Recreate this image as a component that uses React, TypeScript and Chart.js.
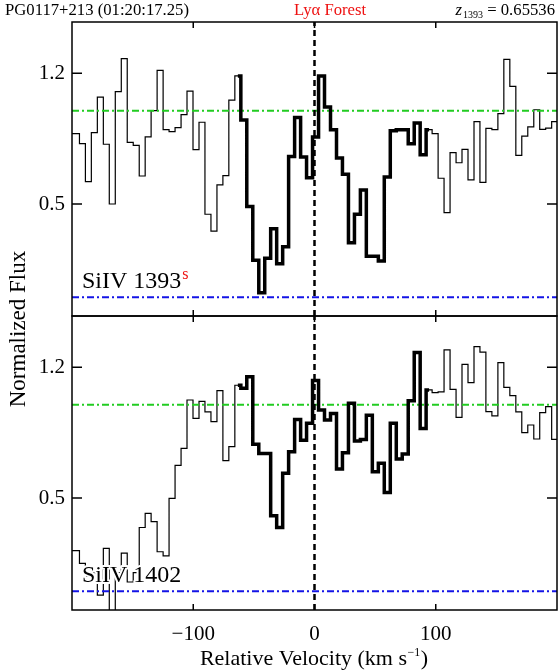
import React, { useEffect, useRef } from "react";
import { Chart, registerables } from "chart.js";

Chart.register(...registerables);

// Bin-centre velocities (km/s)
const velocity = [
  -201.3, -196.3, -191.4, -186.5, -181.6, -176.6, -171.7, -166.8, -161.8, -156.9,
  -152.0, -147.0, -142.1, -137.2, -132.3, -127.3, -122.4, -117.5, -112.5, -107.6,
  -102.7, -97.7, -92.8, -87.9, -82.9, -78.0, -73.1, -68.2, -63.2, -58.3,
  -53.4, -48.4, -43.5, -38.6, -33.7, -28.7, -23.8, -18.9, -13.9, -9.0,
  -4.1, 0.9, 5.8, 10.7, 15.7, 20.6, 25.5, 30.5, 35.4, 40.3,
  45.2, 50.2, 55.1, 60.0, 65.0, 69.9, 74.8, 79.8, 84.7, 89.6,
  94.5, 99.5, 104.4, 109.3, 114.3, 119.2, 124.1, 129.1, 134.0, 138.9,
  143.8, 148.8, 153.7, 158.6, 163.6, 168.5, 173.4, 178.4, 183.3, 188.2,
  193.1, 198.1, 203.0,
];

// SiIV 1393 normalized flux
const fluxSiIV1393 = [
  0.877, 0.877, 0.823, 0.62, 0.882, 1.073, 0.82, 0.5, 1.102, 1.279,
  0.83, 0.814, 0.65, 0.86, 1.0, 1.216, 0.898, 0.888, 0.909, 0.979,
  1.105, 0.791, 0.938, 0.445, 0.355, 0.602, 0.652, 1.057, 1.186, 0.95,
  0.486, 0.198, 0.025, 0.209, 0.368, 0.18, 0.271, 0.754, 0.963, 0.752,
  0.64, 0.859, 1.186, 1.02, 0.898, 0.746, 0.66, 0.293, 0.445, 0.575,
  0.22, 0.22, 0.195, 0.645, 0.893, 0.898, 0.898, 0.823, 0.934, 0.764,
  0.898, 0.877, 0.638, 0.454, 0.775, 0.721, 0.793, 0.629, 0.941, 0.616,
  0.905, 0.898, 0.984, 1.275, 1.13, 0.761, 0.864, 0.913, 1.005, 0.9,
  0.907, 0.941, 0.941,
];

// SiIV 1402 normalized flux
const fluxSiIV1402 = [
  0.218, 0.218, 0.15, 0.08, 0.1, -0.02, 0.23, -0.2, 0.1, 0.205,
  0.05, 0.1, 0.342, 0.418, 0.373, 0.212, 0.19, 0.498, 0.675, 0.766,
  1.025, 0.927, 1.018, 0.961, 0.909, 1.075, 0.7, 0.775, 1.104, 1.088,
  1.15, 0.788, 0.739, 0.739, 0.405, 0.342, 0.632, 0.748, 0.921, 0.81,
  0.9, 1.13, 0.971, 0.918, 0.953, 0.655, 0.743, 1.007, 0.805, 0.814,
  0.943, 0.641, 0.686, 0.53, 0.9, 0.709, 0.736, 1.021, 1.279, 0.872,
  1.079, 1.065, 1.068, 1.293, 1.082, 0.932, 1.216, 1.118, 1.311, 1.282,
  0.963, 0.94, 1.225, 1.093, 1.048, 0.961, 0.85, 0.891, 0.816, 0.957,
  0.989, 0.814, 0.814,
];

// Velocity window of the absorption (thick line)
const absorptionWindow = [-63.2, 94.5];

const xTicks = [-100, 0, 100];
const yTicks = [0.5, 1.2];
const xRange = [-200, 200];
const yRange = [-0.1, 1.475];
const continuumLevel = 1.0;
const zeroLevel = 0.0;

const headerLeft = "PG0117+213 (01:20:17.25)";
const headerCenter = "Ly\u03b1 Forest";
const redshiftLabel = "z";
const redshiftSub = "1393";
const redshiftValue = " = 0.65536";
const panelLabels: Record<string, { main: string; sup: string }> = {
  yTop: { main: "SiIV 1393", sup: "s" },
  yBot: { main: "SiIV 1402", sup: "" },
};

const SERIF = '"Liberation Serif", "DejaVu Serif", "Times New Roman", serif';
const GREEN = "#22cc22";
const BLUE = "#1414e6";

function pts(xs: number[], ys: number[]) {
  return xs.map((x, i) => ({ x, y: ys[i] }));
}

function windowPts(xs: number[], ys: number[]) {
  return pts(xs, ys).filter(
    (p) => p.x >= absorptionWindow[0] - 0.01 && p.x <= absorptionWindow[1] + 0.01
  );
}

function panelDatasets(flux: number[], axis: string) {
  const base = {
    yAxisID: axis,
    xAxisID: "x",
    pointRadius: 0,
    fill: false,
    tension: 0,
  };
  return [
    {
      ...base,
      data: [
        { x: 0, y: yRange[0] },
        { x: 0, y: yRange[1] },
      ],
      borderColor: "#000",
      borderWidth: 2.5,
      borderDash: [6, 4],
      order: 0,
      clip: 0,
    },
    {
      ...base,
      data: windowPts(velocity, flux),
      borderColor: "#000",
      borderWidth: 3.5,
      stepped: "middle",
      order: 1,
      clip: 0,
    },
    {
      ...base,
      data: [
        { x: xRange[0], y: continuumLevel },
        { x: xRange[1], y: continuumLevel },
      ],
      borderColor: GREEN,
      borderWidth: 2,
      borderDash: [7, 3, 2, 3],
      order: 2,
    },
    {
      ...base,
      data: [
        { x: xRange[0], y: zeroLevel },
        { x: xRange[1], y: zeroLevel },
      ],
      borderColor: BLUE,
      borderWidth: 2,
      borderDash: [7, 3, 2, 3],
      order: 2,
    },
    {
      ...base,
      data: pts(velocity, flux),
      borderColor: "#000",
      borderWidth: 1.2,
      stepped: "middle",
      order: 3,
      clip: 0,
    },
  ];
}

const decorPlugin = {
  id: "decor",
  afterDraw(chart: any) {
    const ctx = chart.ctx as CanvasRenderingContext2D;
    const x = chart.scales.x;
    const axes = ["yTop", "yBot"];
    axes.forEach((id) => {
      const y = chart.scales[id];
      ctx.save();
      ctx.strokeStyle = "#000";
      ctx.lineWidth = 1.5;
      ctx.strokeRect(x.left, y.top, x.right - x.left, y.bottom - y.top);
      ctx.beginPath();
      for (const v of xTicks) {
        const px = x.getPixelForValue(v);
        ctx.moveTo(px, y.top);
        ctx.lineTo(px, y.top + 6);
        ctx.moveTo(px, y.bottom);
        ctx.lineTo(px, y.bottom - 6);
      }
      for (const v of yTicks) {
        const py = y.getPixelForValue(v);
        ctx.moveTo(x.left, py);
        ctx.lineTo(x.left + 10, py);
        ctx.moveTo(x.right, py);
        ctx.lineTo(x.right - 10, py);
      }
      ctx.stroke();

      // panel label with white halo
      const lab = panelLabels[id];
      const lx = x.left + 10;
      const ly = y.bottom - 28;
      ctx.font = `24px ${SERIF}`;
      ctx.textAlign = "left";
      ctx.textBaseline = "alphabetic";
      ctx.lineWidth = 4;
      ctx.strokeStyle = "#fff";
      ctx.lineJoin = "round";
      ctx.strokeText(lab.main, lx, ly);
      ctx.fillStyle = "#000";
      ctx.fillText(lab.main, lx, ly);
      if (lab.sup) {
        const w = ctx.measureText(lab.main).width;
        ctx.font = `16px ${SERIF}`;
        ctx.fillStyle = "#ee1111";
        ctx.fillText(lab.sup, lx + w + 1, ly - 9);
      }
      ctx.restore();
    });

    ctx.save();
    ctx.textBaseline = "alphabetic";
    // header
    ctx.font = `16.7px ${SERIF}`;
    ctx.fillStyle = "#000";
    ctx.textAlign = "left";
    ctx.fillText(headerLeft, 5, 15);
    ctx.fillStyle = "#ee1111";
    ctx.textAlign = "center";
    ctx.fillText(headerCenter, 330, 15);
    ctx.fillStyle = "#000";
    ctx.textAlign = "left";
    ctx.font = `italic 16.7px ${SERIF}`;
    const w1 = ctx.measureText(redshiftLabel).width;
    ctx.font = `10px ${SERIF}`;
    const w2 = ctx.measureText(redshiftSub).width;
    ctx.font = `16.7px ${SERIF}`;
    const w3 = ctx.measureText(redshiftValue).width;
    let sx = 555 - (w1 + w2 + w3 + 1);
    ctx.font = `italic 16.7px ${SERIF}`;
    ctx.fillText(redshiftLabel, sx, 15);
    sx += w1 + 1;
    ctx.font = `10px ${SERIF}`;
    ctx.fillText(redshiftSub, sx, 18);
    sx += w2;
    ctx.font = `16.7px ${SERIF}`;
    ctx.fillText(redshiftValue, sx, 15);

    // x-axis title
    const t1 = "Relative Velocity (km s";
    const t2 = "\u22121";
    const t3 = ")";
    ctx.font = `22px ${SERIF}`;
    const a = ctx.measureText(t1).width;
    const c = ctx.measureText(t3).width;
    ctx.font = `12px ${SERIF}`;
    const b = ctx.measureText(t2).width;
    const total = a + b + c + 1;
    let tx = 314 - total / 2;
    const ty = 665;
    ctx.font = `22px ${SERIF}`;
    ctx.fillText(t1, tx, ty);
    tx += a + 0.5;
    ctx.font = `12px ${SERIF}`;
    ctx.fillText(t2, tx, ty - 9);
    tx += b + 0.5;
    ctx.font = `22px ${SERIF}`;
    ctx.fillText(t3, tx, ty);

    // y-axis title
    ctx.translate(25, 329);
    ctx.rotate(-Math.PI / 2);
    ctx.textAlign = "center";
    ctx.font = `23px ${SERIF}`;
    ctx.fillText("Normalized Flux", 0, 0);
    ctx.restore();
  },
};

export default function App() {
  const ref = useRef<HTMLCanvasElement | null>(null);
  useEffect(() => {
    if (!ref.current) return;
    const yAxis = () => ({
      type: "linear",
      position: "left",
      stack: "flux",
      stackWeight: 1,
      min: yRange[0],
      max: yRange[1],
      grid: { display: false, drawTicks: false },
      border: { display: false },
      afterBuildTicks: (s: any) => {
        s.ticks = yTicks.map((v) => ({ value: v }));
      },
      afterFit: (s: any) => {
        s.width = 72;
      },
      ticks: {
        font: { family: SERIF, size: 21 },
        color: "#000",
        padding: 7,
        callback: (v: any) => Number(v).toFixed(1),
      },
    });
    const chart = new Chart(ref.current, {
      type: "line",
      data: {
        datasets: [
          ...panelDatasets(fluxSiIV1393, "yTop"),
          ...panelDatasets(fluxSiIV1402, "yBot"),
        ] as any,
      },
      options: {
        responsive: false,
        animation: false,
        devicePixelRatio: 1,
        layout: { padding: { left: 0, right: 3, top: 22, bottom: 0 } },
        plugins: { legend: { display: false }, tooltip: { enabled: false } },
        events: [],
        scales: {
          x: {
            type: "linear",
            position: "bottom",
            min: xRange[0],
            max: xRange[1],
            grid: { display: false, drawTicks: false },
            border: { display: false },
            afterBuildTicks: (s: any) => {
              s.ticks = xTicks.map((v) => ({ value: v }));
            },
            afterFit: (s: any) => {
              s.height = 60;
            },
            ticks: {
              font: { family: SERIF, size: 21 },
              color: "#000",
              padding: 12,
              maxRotation: 0,
              autoSkip: false,
              callback: (v: any) => (Number(v) < 0 ? "\u2212" + Math.abs(Number(v)) : String(v)),
            },
          },
          // stacked axes: the first listed is placed at the bottom
          yBot: yAxis(),
          yTop: yAxis(),
        } as any,
      },
      plugins: [decorPlugin],
    });
    return () => chart.destroy();
  }, []);
  return (
    <div style={{ position: "fixed", left: 0, top: 0, width: 560, height: 670, background: "#fff" }}>
      <canvas ref={ref} width={560} height={670} style={{ display: "block" }} />
    </div>
  );
}
